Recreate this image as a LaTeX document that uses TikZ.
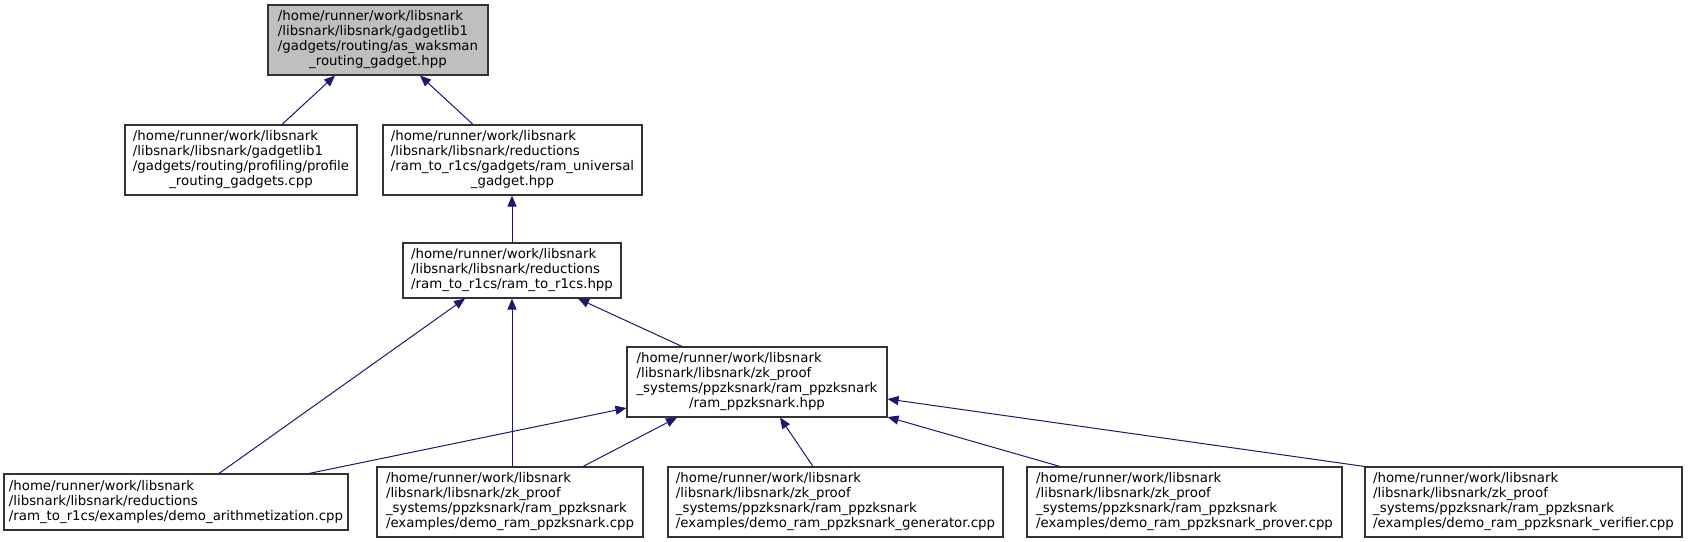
\documentclass[tikz,border=0pt]{standalone}
\usepackage{fontspec}
\setmainfont{DejaVu Sans}
\usetikzlibrary{arrows.meta,calc}
\definecolor{edgeblue}{HTML}{191970}
\definecolor{topgray}{HTML}{BFBFBF}
\definecolor{boxline}{HTML}{333333}
\newcommand{\lbl}[2]{\begin{tabular}{@{}l@{}}#1\\\multicolumn{1}{@{}c@{}}{#2}\end{tabular}}
\begin{document}
\begin{tikzpicture}[x=1pt,y=-1pt,
  filebox/.style={draw=boxline, line width=1.1pt, fill=white, inner sep=0pt,
    font=\fontsize{13.33}{15}\selectfont},
  mainbox/.style={filebox, fill=topgray},
  dep/.style={draw=edgeblue, line width=1pt, -{Triangle[length=11pt,width=9pt]}}]
\useasboundingbox (0,0) rectangle (1688,541);

\node[mainbox, minimum width=220pt, minimum height=70pt] (top) at (378,40)
  {\lbl{/home/runner/work/libsnark\\/libsnark/libsnark/gadgetlib1\\/gadgets/routing/as\_waksman}{\_routing\_gadget.hpp}};
\node[filebox, minimum width=232pt, minimum height=70pt] (profile) at (241,160)
  {\lbl{/home/runner/work/libsnark\\/libsnark/libsnark/gadgetlib1\\/gadgets/routing/profiling/profile}{\_routing\_gadgets.cpp}};
\node[filebox, minimum width=259pt, minimum height=70pt] (univ) at (512.5,160)
  {\lbl{/home/runner/work/libsnark\\/libsnark/libsnark/reductions\\/ram\_to\_r1cs/gadgets/ram\_universal}{\_gadget.hpp}};
\node[filebox, minimum width=218pt, minimum height=55pt] (r1cs) at (512,270.5)
  {\lbl{/home/runner/work/libsnark\\/libsnark/libsnark/reductions}{/ram\_to\_r1cs/ram\_to\_r1cs.hpp}};
\node[filebox, minimum width=260pt, minimum height=70pt] (ppz) at (757,382)
  {\lbl{/home/runner/work/libsnark\\/libsnark/libsnark/zk\_proof\\\_systems/ppzksnark/ram\_ppzksnark}{/ram\_ppzksnark.hpp}};
\node[filebox, minimum width=344pt, minimum height=56pt] (arith) at (176,502)
  {\lbl{/home/runner/work/libsnark\\/libsnark/libsnark/reductions}{/ram\_to\_r1cs/examples/demo\_arithmetization.cpp}};
\node[filebox, minimum width=266pt, minimum height=70pt] (demoram) at (510,502)
  {\lbl{/home/runner/work/libsnark\\/libsnark/libsnark/zk\_proof\\\_systems/ppzksnark/ram\_ppzksnark}{/examples/demo\_ram\_ppzksnark.cpp}};
\node[filebox, minimum width=335pt, minimum height=70pt] (gen) at (835.5,502)
  {\lbl{/home/runner/work/libsnark\\/libsnark/libsnark/zk\_proof\\\_systems/ppzksnark/ram\_ppzksnark}{/examples/demo\_ram\_ppzksnark\_generator.cpp}};
\node[filebox, minimum width=315pt, minimum height=70pt] (prover) at (1184.5,502)
  {\lbl{/home/runner/work/libsnark\\/libsnark/libsnark/zk\_proof\\\_systems/ppzksnark/ram\_ppzksnark}{/examples/demo\_ram\_ppzksnark\_prover.cpp}};
\node[filebox, minimum width=317pt, minimum height=70pt] (verifier) at (1523.5,502)
  {\lbl{/home/runner/work/libsnark\\/libsnark/libsnark/zk\_proof\\\_systems/ppzksnark/ram\_ppzksnark}{/examples/demo\_ram\_ppzksnark\_verifier.cpp}};

\draw[dep] ($(profile.north)+(41,0)$) -- ($(top.south)+(-43,0)$);
\draw[dep] ($(univ.north)+(-39.5,0)$) -- ($(top.south)+(42,0)$);
\draw[dep] (r1cs.north) -- (r1cs.north |- univ.south);
\draw[dep] ($(arith.north)+(43,0)$) -- ($(r1cs.south)+(-47,0)$);
\draw[dep] ($(ppz.north)+(-75,0)$) -- ($(r1cs.south)+(66,0)$);
\draw[dep] ($(demoram.north)+(2,0)$) -- (r1cs.south);
\draw[dep] ($(arith.north)+(133,0)$) -- ($(ppz.west)+(0,26)$);
\draw[dep] ($(demoram.north)+(73,0)$) -- ($(ppz.south)+(-80,0)$);
\draw[dep] ($(gen.north)+(-22.5,0)$) -- ($(ppz.south)+(23,0)$);
\draw[dep] ($(prover.north)+(-124.5,0)$) -- ($(ppz.east)+(0,35)$);
\draw[dep] (verifier.north west) -- ($(ppz.east)+(0,17)$);
\end{tikzpicture}
\end{document}
